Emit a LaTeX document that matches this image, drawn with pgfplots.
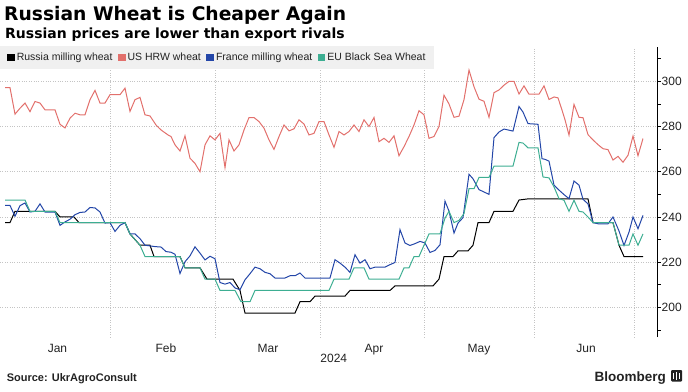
\documentclass[border=0pt]{standalone}
\usepackage{fontspec}
\setmainfont{Liberation Sans}
\newfontfamily\titlefont{DejaVu Sans}
\usepackage{pgfplots}
\pgfplotsset{compat=1.18}
\definecolor{cRU}{HTML}{000000}
\definecolor{cUS}{HTML}{E2706C}
\definecolor{cFR}{HTML}{2346A8}
\definecolor{cEU}{HTML}{3DAE92}
\definecolor{gridc}{HTML}{C4C4C4}
\definecolor{leggray}{HTML}{F0F0F0}
\definecolor{txt}{HTML}{222222}
\begin{document}
\begin{tikzpicture}[x=1pt,y=1pt]
\useasboundingbox (0,0) rectangle (688,391);
\node[anchor=base west, inner sep=0] at (4,370.3) {\titlefont\bfseries\fontsize{18.7}{20}\selectfont Russian Wheat is Cheaper Again};
\node[anchor=base west, inner sep=0] at (5,352.7) {\titlefont\bfseries\fontsize{14}{16}\selectfont Russian prices are lower than export rivals};
\begin{axis}[
  at={(0pt,54pt)}, anchor=south west,
  scale only axis, width=657pt, height=290pt,
  xmin=0, xmax=657, ymin=186.9, ymax=315.2,
  axis y line*=right, axis x line*=bottom,
  x axis line style={draw=none},
  y axis line style={line width=1pt, black},
  xtick={110,215,320,424,534,634}, xticklabels={},
  xmajorgrids, ymajorgrids,
  major grid style={gridc, dotted, line width=0.6pt},
  x tick style={draw=none},
  ytick={200,220,...,300},
  minor ytick={190,210,...,310},
  y tick style={black, line width=0.8pt},
  tick align=outside,
  major tick length=3.5pt, minor tick length=3.5pt,
  yticklabel style={font=\fontsize{12}{12}\selectfont, text=txt, inner xsep=1pt},
  xticklabel style={font=\fontsize{12}{12}\selectfont, text=txt},
  extra x ticks={57.5,166,268,374,479,586},
  extra x tick labels={Jan,Feb,Mar,Apr,May,Jun},
  extra x tick style={grid=none, tick style={draw=none}},
  /pgf/number format/assume math mode=true,
  /pgf/number format/1000 sep={},
  xlabel={2024},
  xlabel style={at={(rel axis cs:0.508,0)}, anchor=north, yshift=-13.5pt, font=\fontsize{12}{12}\selectfont, text=txt},
  legend columns=4,
  legend style={at={(rel axis cs:0,1.0045)}, anchor=north west, draw=none, fill=leggray,
    font=\fontsize{10.5}{12}\selectfont, text=txt, inner xsep=7pt, inner ysep=5pt,
    /tikz/every even column/.append style={column sep=3.5pt}},
  legend image code/.code={\fill[#1] (0pt,-3.3pt) rectangle (6.6pt,3.3pt);},
]
\addplot[color=cRU, line width=1pt] coordinates {
(5,237.5) (10,237.5) (15,242.5) (55,242.5) (60,240) (74,240) (79,237.5) (125,237.5) (130,232.5) (140,227.5) (150,227.5) (154,222.5) (180,222.5) (185,217.5) (200,217.5) (207,212.5) (233,212.5) (240,207.5) (245,197.5) (295,197.5) (300,202.5) (310,202.5) (315,205) (345,205) (350,207.5) (390,207.5) (395,209.5) (433,209.5) (439,212.5) (444,222.5) (453,222.5) (458,225) (468,225) (473,227.5) (478,237.5) (489,237.5) (494,242.5) (513,242.5) (519,247.5) (528,248) (588,248) (593,237.5) (613,237.5) (619,227.5) (624,222.5) (643,222.5)
};
\addlegendentry{Russia milling wheat}
\addplot[color=cUS, line width=1pt] coordinates {
(5,297.2) (10,297.2) (15,285.5) (20,288.1) (25,290.4) (30,286.6) (35,291.1) (40,290.4) (45,287.4) (55,287.4) (60,281) (65,279.4) (70,283.7) (75,285.9) (80,285.2) (85,285.2) (90,291.9) (95,296) (100,290.4) (105,290.4) (110,294.1) (120,294.1) (125,297) (130,286.7) (135,291.9) (140,292.9) (145,285.2) (150,284.7) (156,280.7) (161,278.5) (168,276.3) (171,275.6) (175,271.9) (180,269.2) (185,275.9) (190,266) (195,263.7) (200,260) (205,271.9) (210,275.9) (215,274.1) (220,277) (225,261.8) (229,274.1) (234,269.2) (239,271.9) (244,278.5) (249,284) (254,284) (259,282.2) (264,279.3) (269,274.1) (274,269.9) (279,275.6) (284,280.7) (289,278.1) (294,279) (299,283) (304,281.1) (309,276.3) (314,277) (319,282.2) (324,282.2) (329,276.3) (334,270.8) (339,277.8) (344,276.3) (349,277.8) (354,280.7) (359,277.8) (364,283) (369,280) (374,284) (379,273.3) (384,274.8) (389,273) (394,275.9) (399,267.1) (404,271.1) (409,275.6) (414,280.7) (419,287) (424,285.2) (429,274.8) (434,275.6) (439,280) (444,293.9) (449,290) (454,284.1) (459,284.6) (464,291.9) (469,305) (474,297.6) (479,292.1) (484,291.2) (489,284.1) (494,295) (499,296.2) (504,298.3) (509,300) (514,300) (519,294.4) (524,298) (529,294.3) (539,294.3) (544,298) (549,292) (554,293.1) (558,292.7) (562,287.3) (565,283) (569,276.2) (574,289.8) (579,284.1) (583,283.9) (588,276.4) (593,274.1) (598,272) (603,270.2) (608,269.8) (613,265.2) (618,266.8) (623,264.2) (628,267.3) (633,275.8) (638,267.1) (643,274.7)
};
\addlegendentry{US HRW wheat}
\addplot[color=cFR, line width=1pt] coordinates {
(5,245.1) (10,245.1) (15,240.3) (20,245) (25,246.2) (30,242.2) (35,242.5) (40,245.8) (45,242.2) (55,242.2) (60,236.3) (65,237.8) (70,239) (75,241) (80,242) (85,242.2) (90,244.2) (95,244) (100,242.2) (105,237.3) (110,237.5) (115,233.6) (120,236.3) (125,237.5) (130,232.5) (135,232.5) (140,230.4) (145,227.5) (150,227.2) (155,226.9) (161,226.7) (166,224.7) (171,224.4) (175,223.5) (180,215) (185,220.2) (190,222.8) (195,226.8) (200,224) (205,221) (210,222.6) (215,221.5) (220,211) (225,210.3) (230,211) (235,208.6) (240,207.8) (245,212.2) (250,214.9) (255,217.8) (260,217.1) (265,215.5) (270,214.9) (275,213) (285,213) (290,214) (295,214) (300,215.2) (305,213) (330,213) (335,221.1) (340,219.6) (345,217.8) (350,215.5) (355,223.3) (360,219.6) (365,221.1) (370,217.1) (375,217.8) (385,217.8) (390,218.9) (395,219.9) (400,234.4) (405,228.5) (410,227.4) (415,228.2) (420,229.2) (425,228.5) (430,224.3) (435,225.2) (440,227.7) (445,247) (449,242.6) (454,232.9) (458,237.3) (463,239.7) (469,258.9) (473,256.9) (479,252.1) (489,250) (494,275.1) (499,277.6) (504,278.9) (513,278) (519,288.9) (523,286.4) (528,281.3) (538,281) (542,265.8) (545,265.5) (549,264.7) (554,254.1) (559,251.9) (564,249.9) (569,248.1) (574,255.9) (579,254.1) (583,247.8) (588,245.8) (593,237.5) (598,237) (608,237) (613,240) (619,233.8) (624,227.4) (629,233.3) (633,240) (638,234.8) (643,240.7)
};
\addlegendentry{France milling wheat}
\addplot[color=cEU, line width=1pt] coordinates {
(5,247.5) (25,247.5) (30,242.5) (55,242.5) (60,237.5) (125,237.5) (130,232.5) (140,227.5) (145,222.5) (180,222.5) (185,217.5) (200,217.5) (205,212.5) (215,212.5) (220,207.5) (235,207.5) (241,202.5) (250,202.5) (255,207.5) (329,207.5) (334,212.5) (349,212.5) (354,217.5) (364,217.5) (369,212.5) (399,212.5) (404,217.5) (409,217.5) (414,222.5) (419,222.5) (424,227.5) (429,232.5) (440,232.5) (445,239.5) (449,242.5) (454,237.5) (459,238.5) (464,241.5) (469,252.5) (474,252.5) (479,257.5) (489,257.5) (494,262.5) (513,262.5) (519,273) (523,272.7) (528,270.6) (538,270.6) (543,257.7) (549,257.3) (554,253.3) (559,248.1) (564,247.4) (569,242.5) (574,247.4) (579,242.5) (583,242.2) (588,240) (593,237.5) (613,237.5) (619,227.5) (629,227.5) (633,232.5) (638,227.5) (643,232.5)
};
\addlegendentry{EU Black Sea Wheat}
\end{axis}
\node[anchor=base west, inner sep=0, text=txt] at (6.6,10) {\bfseries\fontsize{11}{12}\selectfont Source: UkrAgroConsult};
\node[anchor=base east, inner sep=0, text=txt] at (666,10) {\bfseries\fontsize{13.5}{14}\selectfont Bloomberg};
\fill[txt, rounded corners=1pt] (671,9.5) rectangle (682,21);
\fill[white] (673.2,12) rectangle (674.4,18.5);
\fill[white] (675.9,11) rectangle (677.1,19.5);
\fill[white] (678.6,12) rectangle (679.8,18.5);
\end{tikzpicture}
\end{document}
